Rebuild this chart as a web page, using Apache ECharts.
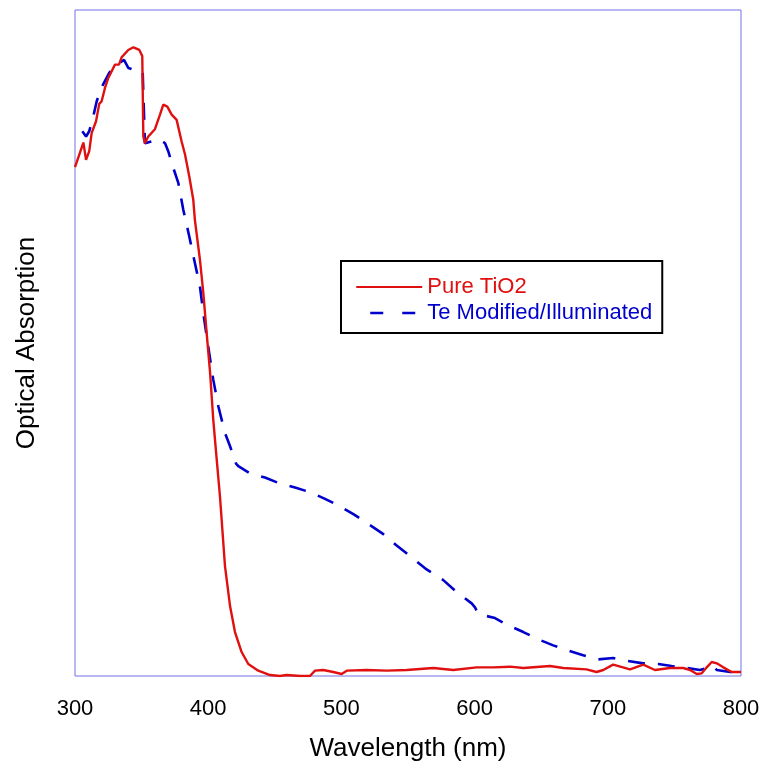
<!DOCTYPE html>
<html>
<head>
<meta charset="utf-8">
<script src="https://cdn.jsdelivr.net/npm/echarts@6/dist/echarts.min.js"></script>
<style>
  html, body { margin: 0; padding: 0; background: #ffffff; }
  #chart { width: 765px; height: 767px; }
</style>
</head>
<body>
<div id="chart"></div>
<script>
// Wavelength ticks (nm)
const xTicks = [300, 400, 500, 600, 700, 800];

// Pure TiO2 absorption spectrum: wavelength (nm) and relative absorption
const pureWavelength = [300, 306.3, 308.3, 310.7, 312.5, 315.8, 318.2, 320, 322.5, 325, 330, 333, 335, 340, 343.8, 348.3, 350.5, 351.3, 352.5, 355, 360, 363.8, 366.3, 369.3, 372.6, 376.3, 380, 382.6, 385.8, 388.8, 390, 393.8, 396.3, 398.8, 401.4, 403.8, 406.4, 408.9, 412.6, 416.4, 420.1, 425.1, 430.1, 437.6, 446.4, 453.9, 458.9, 469, 476.4, 480.2, 486.4, 493.9, 500.2, 504, 519, 534, 549, 569, 584, 601.5, 614, 626.6, 636.6, 656.6, 666.6, 684, 691.6, 696.6, 704, 716.7, 726.6, 735.4, 746.6, 756.6, 761.8, 766.8, 770.5, 774.3, 778, 781.8, 786.7, 793, 800];
const pureAbsorption = [0.764, 0.801, 0.775, 0.788, 0.815, 0.833, 0.859, 0.863, 0.883, 0.898, 0.918, 0.918, 0.929, 0.940, 0.944, 0.940, 0.931, 0.810, 0.800, 0.810, 0.821, 0.843, 0.858, 0.855, 0.843, 0.835, 0.803, 0.783, 0.750, 0.715, 0.685, 0.625, 0.576, 0.516, 0.456, 0.385, 0.325, 0.268, 0.165, 0.105, 0.066, 0.036, 0.018, 0.008, 0.0015, 0, 0.0015, 0, 0, 0.008, 0.009, 0.006, 0.003, 0.008, 0.009, 0.008, 0.009, 0.012, 0.009, 0.013, 0.013, 0.014, 0.012, 0.015, 0.012, 0.010, 0.006, 0.009, 0.017, 0.010, 0.017, 0.009, 0.012, 0.012, 0.009, 0.003, 0.004, 0.013, 0.021, 0.019, 0.013, 0.006, 0.006];

// Te modified / illuminated TiO2 spectrum
const teWavelength = [305.5, 308.3, 310.7, 313.7, 316.3, 320, 325.8, 331.3, 336.8, 340, 345, 350.8, 352.5, 363.3, 367.6, 370, 373.8, 377.6, 381.3, 385.8, 390, 393.8, 396.3, 400, 403.8, 407.6, 412.6, 416.4, 420.9, 422.6, 431.4, 442.6, 452.6, 465.2, 476.4, 487.7, 497.7, 509, 519, 531.5, 541.5, 554, 564, 576.5, 586.5, 597.8, 600.3, 602.8, 615.3, 625.3, 636.6, 647.8, 659, 670.3, 681.5, 692.8, 704, 714, 726.6, 737.9, 747.9, 759.2, 769.2, 779.2, 781.8, 791.8, 800];
const teAbsorption = [0.818, 0.810, 0.818, 0.840, 0.863, 0.884, 0.906, 0.918, 0.925, 0.913, 0.910, 0.908, 0.800, 0.806, 0.800, 0.788, 0.763, 0.740, 0.700, 0.660, 0.620, 0.585, 0.545, 0.495, 0.445, 0.405, 0.365, 0.345, 0.319, 0.315, 0.304, 0.298, 0.290, 0.283, 0.276, 0.266, 0.256, 0.243, 0.230, 0.213, 0.196, 0.176, 0.160, 0.144, 0.126, 0.109, 0.103, 0.093, 0.087, 0.076, 0.066, 0.055, 0.046, 0.038, 0.031, 0.025, 0.027, 0.023, 0.019, 0.018, 0.015, 0.012, 0.009, 0.015, 0.009, 0.006, 0.006];

const seriesNames = ['Pure TiO2', 'Te Modified/Illuminated'];
const axisTitles = { x: 'Wavelength (nm)', y: 'Optical Absorption' };

const RED = '#e01010';
const BLUE = '#0000cc';
const FONT = '"Liberation Sans", Arial, sans-serif';

const pairs = (xs, ys) => xs.map((x, i) => [x, ys[i]]);

const chart = echarts.init(document.getElementById('chart'), null, { renderer: 'canvas' });

chart.setOption({
  animation: false,
  backgroundColor: '#ffffff',
  textStyle: { fontFamily: FONT },
  grid: {
    left: 75, top: 10, right: 24, bottom: 90,
    show: true, borderColor: '#7070e4', borderWidth: 1, backgroundColor: 'transparent'
  },
  xAxis: {
    type: 'value',
    min: xTicks[0], max: xTicks[xTicks.length - 1], interval: 100,
    axisLine: { show: false },
    axisTick: { show: false },
    splitLine: { show: false },
    axisLabel: { fontSize: 22, color: '#000', fontFamily: FONT, margin: 22 },
    name: axisTitles.x,
    nameLocation: 'middle',
    nameGap: 60,
    nameTextStyle: { fontSize: 26, color: '#000', fontFamily: FONT }
  },
  yAxis: {
    type: 'value',
    min: 0, max: 1,
    axisLine: { show: false },
    axisTick: { show: false },
    splitLine: { show: false },
    axisLabel: { show: false },
    name: axisTitles.y,
    nameLocation: 'middle',
    nameGap: 35,
    nameTextStyle: { fontSize: 26, color: '#000', fontFamily: FONT }
  },
  legend: {
    orient: 'vertical',
    left: 341, top: 261,
    padding: [15, 10, 9, 14],
    itemWidth: 66, itemHeight: 14, itemGap: 4,
    borderColor: '#000', borderWidth: 2,
    backgroundColor: '#fff',
    textStyle: { fontSize: 22, fontFamily: FONT },
    // line-only keys: the point marker is kept invisible
    itemStyle: { opacity: 0 },
    data: [
      { name: seriesNames[0], textStyle: { color: RED },
        lineStyle: { width: 2 } },
      { name: seriesNames[1], textStyle: { color: BLUE },
        lineStyle: { width: 2.5, type: [13, 19], dashOffset: 18 } }
    ]
  },
  series: [
    {
      name: seriesNames[0],
      type: 'line',
      data: pairs(pureWavelength, pureAbsorption),
      showSymbol: false, symbol: 'none',
      lineStyle: { color: RED, width: 2.4 },
      itemStyle: { color: RED },
      z: 3
    },
    {
      name: seriesNames[1],
      type: 'line',
      data: pairs(teWavelength, teAbsorption),
      showSymbol: false, symbol: 'none',
      lineStyle: { color: BLUE, width: 2.6, type: [17, 13] },
      itemStyle: { color: BLUE },
      z: 2
    }
  ]
});
</script>
</body>
</html>
